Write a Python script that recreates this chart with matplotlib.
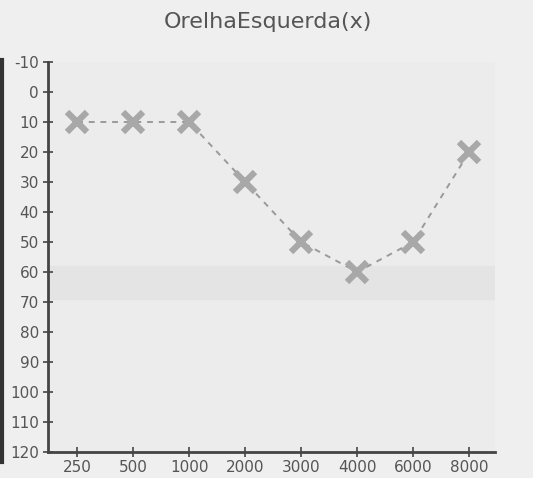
import numpy as np
import matplotlib
matplotlib.use('Agg')
import matplotlib.pyplot as plt

frequencies = ['250', '500', '1000', '2000', '3000', '4000', '6000', '8000']
left_ear_db = [10, 10, 10, 30, 50, 60, 50, 20]
y_ticks = list(range(-10, 121, 10))

plt.rcParams['font.family'] = ['DejaVu Sans']

fig = plt.figure(figsize=(5.33, 4.78), dpi=100)
fig.patch.set_facecolor('#efefef')
ax = fig.add_axes([48 / 533, 1 - 452 / 478, 447 / 533, 390 / 478])
ax.set_facecolor('#ececec')

# scan artefacts: dark strip at the left edge, faint band across the middle
fig.add_artist(plt.Line2D([0.003, 0.003], [1 - 60 / 478, 1 - 462 / 478],
                          color='#333333', lw=3, transform=fig.transFigure))
ax.axhspan(58, 69, color='#e4e4e4', zorder=0)

x = np.arange(len(frequencies))
ax.plot(x, left_ear_db, color='#9a9a9a', lw=1.4, ls=(0, (3, 3)), zorder=2)
ax.plot(x, left_ear_db, ls='none', marker='x', ms=15, mew=4.5,
        color='#a8a8a8', zorder=3)

ax.set_xlim(-0.52, 7.46)
ax.set_ylim(120, -10)
ax.set_xticks(x)
ax.set_xticklabels(frequencies)
ax.set_yticks(y_ticks)
ax.set_yticklabels([str(v) for v in y_ticks])

for side in ['top', 'right']:
    ax.spines[side].set_visible(False)
for side in ['left', 'bottom']:
    ax.spines[side].set_color('#444444')
    ax.spines[side].set_linewidth(2)

ax.tick_params(axis='both', direction='inout', length=7, width=1.2,
               colors='#444444', labelsize=11, labelcolor='#555555')
ax.tick_params(axis='y', pad=3)
ax.tick_params(axis='x', pad=2)

fig.text(268 / 533, 1 - 22 / 478, 'OrelhaEsquerda(x)', ha='center', va='center',
         fontsize=16, color='#555555')

fig.savefig('out.png', dpi=100, facecolor=fig.get_facecolor())
